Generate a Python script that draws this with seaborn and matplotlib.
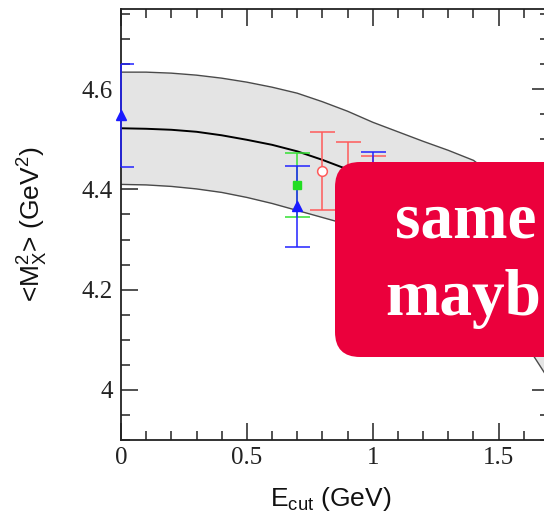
import matplotlib
matplotlib.use('Agg')

import matplotlib.pyplot as plt
import matplotlib.ticker as mticker
from matplotlib.patches import FancyBboxPatch
import seaborn as sns

# band: central value and its upper / lower edge vs. E_cut
e_grid = [0.0, 0.1, 0.2, 0.3, 0.4, 0.5, 0.6, 0.7, 0.8, 0.9,
          1.0, 1.1, 1.2, 1.3, 1.4, 1.5, 1.6, 1.7]
band_upper = [4.634, 4.634, 4.632, 4.628, 4.622, 4.614, 4.604, 4.592, 4.575, 4.556,
              4.534, 4.515, 4.496, 4.478, 4.458, 4.420, 4.345, 4.225]
band_mid = [4.522, 4.521, 4.519, 4.515, 4.508, 4.499, 4.489, 4.476, 4.459, 4.440,
            4.420, 4.400, 4.380, 4.358, 4.335, 4.295, 4.220, 4.120]
band_lower = [4.410, 4.409, 4.406, 4.401, 4.394, 4.384, 4.372, 4.358, 4.344, 4.330,
              4.312, 4.292, 4.270, 4.245, 4.215, 4.170, 4.098, 4.020]

# measurements
blue_x = [0.0, 0.7, 1.0]
blue_y = [4.548, 4.366, 4.392]
blue_err = [0.103, 0.080, 0.082]

green_x = [0.7]
green_y = [4.408]
green_err = [0.064]

red_x = [0.8, 0.9, 1.0]
red_y = [4.436, 4.416, 4.390]
red_err = [0.078, 0.078, 0.076]

x_ticks = [0, 0.5, 1, 1.5]
y_ticks = [4.0, 4.2, 4.4, 4.6]

sns.set_style('ticks')
plt.rcParams['font.family'] = ['Liberation Sans', 'DejaVu Sans']
plt.rcParams['mathtext.default'] = 'regular'

fig = plt.figure(figsize=(5.44, 5.15), dpi=100)
ax = fig.add_axes([121 / 544, 75 / 515, 428 / 544, 431 / 515])

ax.fill_between(e_grid, band_lower, band_upper, color='#e4e4e4', lw=0, zorder=1)
sns.lineplot(x=e_grid, y=band_upper, ax=ax, color='#4a4a4a', lw=1.0, zorder=2)
sns.lineplot(x=e_grid, y=band_lower, ax=ax, color='#4a4a4a', lw=1.0, zorder=2)
sns.lineplot(x=e_grid, y=band_mid, ax=ax, color='black', lw=1.4, zorder=2)

bar_kw = dict(fmt='none', capsize=9, capthick=1.1, elinewidth=1.1)
ax.errorbar(green_x, green_y, yerr=green_err, ecolor='#33e033', zorder=3, **bar_kw)
ax.errorbar(red_x, red_y, yerr=red_err, ecolor='#ff5a5a', zorder=3, **bar_kw)
blue_bars = ax.errorbar(blue_x, blue_y, yerr=blue_err, ecolor='#2222ff', zorder=4, **bar_kw)
# the vertical bar at E_cut = 0 sits on top of the axis line
for coll in blue_bars[2]:
    coll.set_clip_on(False)

ax.plot(green_x, green_y, 's', color='#22dd22', ms=5.5, zorder=5)
ax.plot(red_x[:1], red_y[:1], 'o', mfc='white', mec='#ff5a5a', mew=1.1, ms=7, zorder=5)
ax.plot(blue_x, blue_y, '^', color='#1a1aff', ms=7, zorder=5, clip_on=False)

ax.set_xlim(0, 1.7)
ax.set_ylim(3.9, 4.76)
ax.set_xticks(x_ticks)
ax.set_yticks(y_ticks)
ax.xaxis.set_minor_locator(mticker.MultipleLocator(0.1))
ax.yaxis.set_minor_locator(mticker.MultipleLocator(0.05))
fmt = mticker.FuncFormatter(lambda v, p: f'{v:g}')
ax.xaxis.set_major_formatter(fmt)
ax.yaxis.set_major_formatter(fmt)

ax.tick_params(which='both', direction='in', top=True, right=True,
               color='#222222', width=1.1, labelcolor='#222222', labelsize=18)
ax.tick_params(which='major', length=12)
ax.tick_params(which='minor', length=6.5)
ax.tick_params(axis='x', pad=5)
ax.tick_params(axis='y', pad=6)
for lab in ax.get_xticklabels() + ax.get_yticklabels():
    lab.set_family(['Liberation Serif', 'DejaVu Serif'])
for sp in ax.spines.values():
    sp.set_color('#222222')
    sp.set_linewidth(1.3)

ax.set_xlabel('E$_{cut}$ (GeV)', fontsize=19, color='#111111')
ax.set_ylabel('<M$_X^2$> (GeV$^2$)', fontsize=19, color='#111111')
ax.xaxis.set_label_coords(0.49, -0.105)
ax.yaxis.set_label_coords(-0.165, 0.5)

# red note box laid over the right part of the chart
box = FancyBboxPatch((3.35, 1.58), 3.2, 1.95, boxstyle='round,pad=0,rounding_size=0.25',
                     transform=fig.dpi_scale_trans, facecolor='#eb003c', edgecolor='none',
                     zorder=10)
fig.add_artist(box)
note_kw = dict(transform=fig.dpi_scale_trans, color='white', fontsize=47,
               fontweight='bold', family=['Liberation Serif', 'DejaVu Serif'],
               va='baseline', ha='left', zorder=11)
fig.text(3.95, 2.77, 'same', **note_kw)
fig.text(3.85, 2.00, 'mayb', **note_kw)

fig.savefig('out.png', dpi=100)
plt.close(fig)
